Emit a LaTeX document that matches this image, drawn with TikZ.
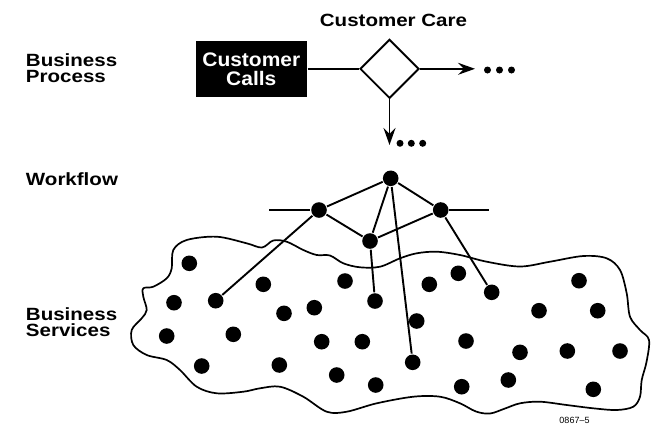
\documentclass[tikz,border=0pt]{standalone}
\usepackage{fontspec}
\setmainfont{Liberation Sans}
\newfontfamily\labfont[FakeStretch=1.16]{Liberation Sans}
\newfontfamily\boxfont[FakeStretch=1.07]{Liberation Sans}
\usetikzlibrary{shapes.geometric,arrows.meta}
\begin{document}
\begin{tikzpicture}[x=1pt,y=-1pt,
  line width=1.9pt,
  lab/.style={font=\labfont\bfseries\fontsize{17.7}{16.5}\selectfont, inner sep=0, align=left},
  dotnode/.style={circle, fill=black, inner sep=0, minimum size=15.6pt},
  smalldot/.style={circle, fill=black, inner sep=0, minimum size=7pt},
  arr/.style={-{Stealth[length=17pt,width=12pt,inset=6pt]}},
  cloud/.style={line width=1.7pt}]
\useasboundingbox (0,0) rectangle (652,424);

% labels
\node[lab, anchor=north west] (bp) at (25,52.5) {Business\\Process};
\node[lab, anchor=base west] (wf) at (25,185.5) {Workflow};
\node[lab, anchor=north west] (bs) at (25,306.5) {Business\\Services};
\node[lab, anchor=base] (cc) at (393.5,26.7) {Customer Care};

% business process
\node[fill=black, text=white, minimum width=110.7pt, minimum height=55.7pt, inner sep=0,
  align=center, font=\boxfont\bfseries\fontsize{19.6}{18.6}\selectfont] (calls) at (251.3,69) {Customer\\Calls};
\node[diamond, draw, minimum width=59pt, minimum height=59pt, inner sep=0, aspect=1] (care) at (389.5,68.8) {};
\coordinate (rend) at (475,68.8);
\coordinate (dend) at (389.5,145);
\draw (calls.east |- care.west) -- (care.west);
\draw[arr] (care.east) -- (rend);
\draw[arr] (care.south) -- (dend);
\node[smalldot] (r1) at (487.5,70) {};
\node[smalldot] (r2) at (499.5,70) {};
\node[smalldot] (r3) at (511.5,70) {};
\node[smalldot] (d1) at (400,143.3) {};
\node[smalldot] (d2) at (411.3,143.3) {};
\node[smalldot] (d3) at (422.7,143.3) {};

% cloud
\draw[cloud] plot[smooth cycle, tension=0.55] coordinates {
 (173.3,250) (186.7,240) (216.7,236.7) (246.7,243.3) (262,247.5) (273.3,240.5) (286.7,241.7)
 (303.3,250) (316.7,255) (330,255.5) (343.3,263.3) (360,267.3) (380,266.7) (400,258.3)
 (416.7,253.3) (436.7,251.7) (460,255) (486.7,261.7) (520,266.5) (550,261.7) (583.3,256)
 (606.7,258.3) (620,270) (626.7,293.3) (630,316.7) (640,330) (649,340) (646.5,362)
 (641.7,380) (640,396.7) (633.3,406.7) (616.7,410) (593.3,408.3) (566.7,405) (540,401.7)
 (520,403.3) (505,408.5) (490,413.5) (476,411.5) (460,403.3) (440,396.7) (413.3,396.7) (376.7,403.3)
 (346.7,411.7) (326.7,411.7) (303.3,396.7) (280,386.7) (260,388.3) (243.3,391.7) (216.7,393.3)
 (196.7,386.7) (180,370) (166.7,360) (146.7,355) (133.3,345) (131.7,330) (141.7,318.3)
 (146.7,310) (143.3,296.7) (143.3,288.3) (153.3,286.7) (166.7,278.3) (171.7,268.3)};

% service dots
\foreach \n/\x/\y in {s1/189.3/263.3, s2/174/302.7, s3/215.7/300.7, s4/263.3/284.3, s5/166.7/336,
  s6/233.3/334.3, s7/284/313.3, s8/314.3/307.7, s9/345/281, s10/375/301, s11/429.3/284.3,
  s12/458.3/273.3, s13/491.7/292.3, s14/416.7/321, s15/321.7/341.7, s16/362.3/341.7,
  s17/466/341, s18/539/310.7, s19/579/280.7, s20/597.7/310.7, s21/520/352.3, s22/567.3/351,
  s23/620/351, s24/201.7/366, s25/279.3/365, s26/336.7/375, s27/375.7/385, s28/412.7/362.3,
  s29/461.7/386.7, s30/508.3/380, s31/593.3/389.3}
  \node[dotnode] (\n) at (\x,\y) {};

% workflow
\node[dotnode] (T) at (390.7,178.3) {};
\node[dotnode] (L) at (319,210) {};
\node[dotnode] (R) at (440.7,210) {};
\node[dotnode] (M) at (370,241) {};
\coordinate (hl) at (269.3,210);
\coordinate (hr) at (489,210);
\draw (hl) -- (L);
\draw (R) -- (hr);
\draw (T) -- (L);
\draw (T) -- (R);
\draw (T) -- (M);
\draw (L) -- (M);
\draw (M) -- (R);
\draw (T) -- (s28);
\draw (L) -- (s3);
\draw (M) -- (s10);
\draw (R) -- (s13);

\node[font=\fontsize{9}{10}\selectfont, inner sep=0] (id) at (574.5,420.5) {0867\textendash5};
\end{tikzpicture}
\end{document}
